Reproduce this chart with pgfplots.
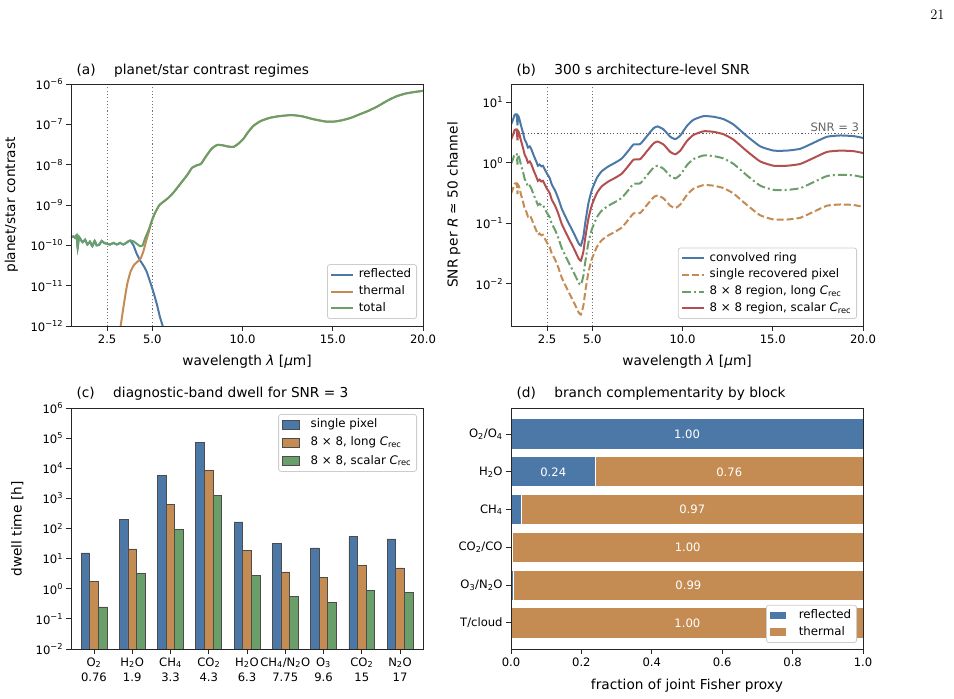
\documentclass[border=0pt]{standalone}
\usepackage{pgfplots}
\usepackage{pgfplotstable}
\pgfplotsset{compat=1.18}
\usepackage{fontspec}
\setsansfont{DejaVu Sans}
\renewcommand{\familydefault}{\sfdefault}
\definecolor{cblue}{RGB}{76,120,168}
\definecolor{corange}{RGB}{196,139,83}
\definecolor{cgreen}{RGB}{106,159,106}
\definecolor{cred}{RGB}{178,80,80}
\newcommand\tickfont{\fontsize{11.6}{13}\selectfont}
\newcommand\labfont{\fontsize{13.7}{16}\selectfont}
\newcommand\legfont{\fontsize{11.8}{14}\selectfont}
\newcommand\ee[1]{10\raisebox{0.42em}{\fontsize{8.2}{9}\selectfont #1}}
\newcommand\sub[1]{\textsubscript{#1}}
\newcommand\Crec{\textit{C}\sub{rec}}

\pgfplotsset{
 panel/.style={scale only axis, anchor=south west, axis on top,
   axis line style={draw=black!85, line width=0.9pt},
   tick style={black!85, line width=0.9pt},
   tick align=outside, major tick length=4.9pt, tick pos=left,
   tick label style={font=\tickfont},
   xminorticks=false, yminorticks=false,
   /pgf/number format/assume math mode=true,
   legend cell align=left,
   legend style={font=\legfont, draw=black!20, line width=0.8pt, rounded corners=2.5pt,
     fill=white, inner xsep=3pt, inner ysep=2pt, row sep=0pt, column sep=2pt,
     nodes={inner sep=2.4pt, text depth=2.9pt}},
 },
 lineleg/.style={legend image code/.code={\draw[##1,sharp corners] (0pt,0pt) -- (22pt,0pt);}},
 patchleg/.style={legend image code/.code={\draw[##1,sharp corners] (0pt,-4.3pt) rectangle (17pt,4.3pt); \path (24pt,0pt);}},
}

\pgfplotstableread{
lam blue orange green red
0.50 4.27 0.309 0.955 2.40
0.61 5.13 0.372 1.148 2.88
0.70 6.17 0.447 1.38 3.47
0.76 6.31 0.457 1.41 3.55
0.82 6.17 0.447 1.38 3.47
0.86 4.17 0.302 0.933 2.34
0.88 6.03 0.437 1.35 3.39
0.95 5.50 0.398 1.23 3.09
1.04 4.27 0.309 0.955 2.40
1.17 3.09 0.224 0.692 1.74
1.26 2.40 0.174 0.537 1.35
1.35 2.14 0.155 0.479 1.20
1.44 1.78 0.129 0.398 1.00
1.54 1.86 0.135 0.417 1.05
1.63 1.66 0.120 0.372 0.933
1.77 1.29 0.0933 0.288 0.724
1.90 1.05 0.0759 0.234 0.589
1.99 0.891 0.0646 0.200 0.501
2.08 0.933 0.0676 0.209 0.525
2.18 0.871 0.0631 0.195 0.490
2.27 0.891 0.0646 0.200 0.501
2.37 0.776 0.0562 0.174 0.437
2.51 0.646 0.0468 0.145 0.363
2.64 0.562 0.0407 0.126 0.316
2.76 0.437 0.0316 0.0977 0.245
2.94 0.347 0.0251 0.0776 0.195
3.13 0.251 0.0182 0.0562 0.141
3.31 0.174 0.0126 0.0389 0.0977
3.50 0.132 0.00955 0.0295 0.0741
3.68 0.102 0.00741 0.0229 0.0575
3.87 0.0794 0.00575 0.0178 0.0447
4.05 0.0617 0.00447 0.0138 0.0347
4.24 0.0468 0.00339 0.0105 0.0263
4.37 0.0427 0.00309 0.00955 0.0240
4.51 0.0603 0.00437 0.0135 0.0339
4.61 0.100 0.00724 0.0224 0.0562
4.79 0.214 0.0155 0.0479 0.120
4.98 0.355 0.0257 0.0794 0.200
5.26 0.562 0.0407 0.126 0.316
5.53 0.724 0.0525 0.162 0.407
5.90 0.871 0.0631 0.195 0.490
6.27 1.00 0.0724 0.224 0.562
6.64 1.175 0.0851 0.263 0.661
7.01 1.585 0.115 0.355 0.891
7.29 2.00 0.145 0.447 1.122
7.66 2.04 0.148 0.457 1.148
8.03 2.75 0.200 0.617 1.55
8.40 3.72 0.269 0.832 2.09
8.62 3.98 0.288 0.891 2.24
8.95 3.55 0.257 0.794 2.00
9.32 2.69 0.195 0.603 1.51
9.60 2.45 0.178 0.550 1.38
9.88 2.82 0.204 0.631 1.585
10.25 4.07 0.295 0.912 2.29
10.61 5.13 0.372 1.148 2.88
11.17 5.89 0.427 1.318 3.31
11.72 5.75 0.417 1.288 3.24
12.28 5.25 0.380 1.175 2.95
12.83 4.27 0.309 0.955 2.40
13.57 2.75 0.200 0.617 1.55
14.31 1.86 0.135 0.417 1.047
15.05 1.585 0.115 0.355 0.891
15.79 1.585 0.115 0.355 0.891
16.53 1.70 0.123 0.380 0.955
17.27 2.14 0.155 0.479 1.20
18.01 2.69 0.195 0.603 1.51
18.75 2.82 0.204 0.631 1.585
19.49 2.75 0.200 0.617 1.55
20.00 2.57 0.186 0.575 1.445
}\snrtab

\begin{document}
\begin{tikzpicture}
\path[use as bounding box] (0pt,0pt) rectangle (954pt,699pt);

% page number
\node[anchor=base east, font=\rmfamily\fontsize{14.4}{16}\selectfont] at (948pt,679pt) {21};

% ---------------- (a)
\begin{axis}[panel, at={(71pt,373pt)}, width=352pt, height=242pt,
  xmin=0.5, xmax=20, ymode=log, ymin=1e-12, ymax=1e-6,
  xtick={2.5,5,10,15,20}, xticklabels={2.5,5.0,10.0,15.0,20.0},
  ytick={1e-12,1e-11,1e-10,1e-9,1e-8,1e-7,1e-6},
  yticklabels={\ee{−12},\ee{−11},\ee{−10},\ee{−9},\ee{−8},\ee{−7},\ee{−6}},
  legend style={at={(0.983,0.029)}, anchor=south east}]
\addplot[black!55, dash pattern=on 1.1pt off 2.2pt, line width=0.9pt, forget plot] coordinates {(2.5,1e-12) (2.5,1e-6)};
\addplot[black!55, dash pattern=on 1.1pt off 2.2pt, line width=0.9pt, forget plot] coordinates {(5,1e-12) (5,1e-6)};
\addplot[cblue, line width=2pt, smooth, tension=0.3, lineleg] coordinates {
(0.50,1.585e-10) (0.54,1.622e-10) (0.63,1.660e-10) (0.72,1.549e-10) (0.81,1.778e-10) (0.87,8.71e-11) (0.94,1.622e-10) (1.04,1.380e-10) (1.15,1.202e-10) (1.28,1.380e-10) (1.41,1.047e-10) (1.55,1.230e-10) (1.68,9.55e-11) (1.81,1.288e-10) (1.92,1.0e-10) (2.07,1.047e-10) (2.20,1.288e-10) (2.33,1.148e-10) (2.48,1.096e-10) (2.66,1.047e-10) (2.85,1.148e-10) (3.04,1.047e-10) (3.22,1.148e-10) (3.40,1.047e-10) (3.59,1.175e-10) (3.77,1.318e-10) (3.96,1.0e-10) (4.14,6.166e-11) (4.32,4.266e-11) (4.51,3.162e-11) (4.69,2.239e-11) (4.88,1.259e-11) (5.06,7.079e-12) (5.25,3.548e-12) (5.43,1.660e-12) (5.58,1.0e-12) (5.75,5.0e-13)};
\addlegendentry{reflected}
\addplot[corange, line width=2pt, smooth, tension=0.3, lineleg] coordinates {
(3.05,2.51e-13) (3.25,1.0e-12) (3.45,3.98e-12) (3.62,1.122e-11) (3.80,2.239e-11) (4.00,3.311e-11) (4.20,3.981e-11) (4.35,4.677e-11) (4.51,7.079e-11) (4.69,1.413e-10) (4.88,2.8e-10) (4.97,3.98e-10) (5.15,6.31e-10) (5.40,1.0e-9) (5.62,1.202e-9) (5.90,1.514e-9) (6.20,2.089e-9) (6.60,3.548e-9) (6.95,5.623e-9) (7.20,8.318e-9) (7.50,9.772e-9) (7.70,1.047e-8) (8.00,1.660e-8) (8.30,2.512e-8) (8.60,3.090e-8) (8.90,3.020e-8) (9.20,2.818e-8) (9.50,2.754e-8) (9.80,3.388e-8) (10.05,4.365e-8) (10.30,6.310e-8) (10.60,9.120e-8) (11.00,1.202e-7) (11.50,1.445e-7) (12.00,1.585e-7) (12.70,1.698e-7) (13.30,1.585e-7) (13.90,1.349e-7) (14.60,1.175e-7) (15.10,1.175e-7) (15.50,1.259e-7) (16.00,1.445e-7) (16.50,1.778e-7) (17.00,2.188e-7) (17.50,2.818e-7) (18.00,3.802e-7) (18.50,4.898e-7) (19.00,5.754e-7) (19.50,6.310e-7) (20.00,6.761e-7)};
\addlegendentry{thermal}
\addplot[cgreen, line width=2pt, smooth, tension=0.3, lineleg] coordinates {
(0.50,1.585e-10) (0.54,1.622e-10) (0.63,1.660e-10) (0.72,1.549e-10) (0.81,1.778e-10) (0.87,8.71e-11) (0.94,1.622e-10) (1.04,1.380e-10) (1.15,1.202e-10) (1.28,1.380e-10) (1.41,1.047e-10) (1.55,1.230e-10) (1.68,9.55e-11) (1.81,1.288e-10) (1.92,1.0e-10) (2.07,1.047e-10) (2.20,1.288e-10) (2.33,1.148e-10) (2.48,1.096e-10) (2.66,1.047e-10) (2.85,1.148e-10) (3.04,1.047e-10) (3.22,1.148e-10) (3.40,1.047e-10) (3.59,1.175e-10) (3.77,1.318e-10) (3.96,1.259e-10) (4.14,1.096e-10) (4.32,9.55e-11) (4.47,1.0e-10) (4.60,1.479e-10) (4.79,2.344e-10) (4.97,3.98e-10) (5.15,6.31e-10) (5.40,1.0e-9) (5.62,1.202e-9) (5.90,1.514e-9) (6.20,2.089e-9) (6.60,3.548e-9) (6.95,5.623e-9) (7.20,8.318e-9) (7.50,9.772e-9) (7.70,1.047e-8) (8.00,1.660e-8) (8.30,2.512e-8) (8.60,3.090e-8) (8.90,3.020e-8) (9.20,2.818e-8) (9.50,2.754e-8) (9.80,3.388e-8) (10.05,4.365e-8) (10.30,6.310e-8) (10.60,9.120e-8) (11.00,1.202e-7) (11.50,1.445e-7) (12.00,1.585e-7) (12.70,1.698e-7) (13.30,1.585e-7) (13.90,1.349e-7) (14.60,1.175e-7) (15.10,1.175e-7) (15.50,1.259e-7) (16.00,1.445e-7) (16.50,1.778e-7) (17.00,2.188e-7) (17.50,2.818e-7) (18.00,3.802e-7) (18.50,4.898e-7) (19.00,5.754e-7) (19.50,6.310e-7) (20.00,6.761e-7)};
\addlegendentry{total}
\end{axis}

% ---------------- (b)
\begin{axis}[panel, at={(511pt,373pt)}, width=352pt, height=242pt,
  xmin=0.5, xmax=20, ymode=log, ymin=0.002, ymax=20,
  xtick={2.5,5,10,15,20}, xticklabels={2.5,5.0,10.0,15.0,20.0},
  ytick={0.01,0.1,1,10},
  yticklabels={\ee{−2},\ee{−1},\ee{0},\ee{1}},
  legend style={at={(0.983,0.029)}, anchor=south east}]
\addplot[black!55, dash pattern=on 1.1pt off 2.2pt, line width=0.9pt, forget plot] coordinates {(2.5,0.002) (2.5,20)};
\addplot[black!55, dash pattern=on 1.1pt off 2.2pt, line width=0.9pt, forget plot] coordinates {(5,0.002) (5,20)};
\addplot[black!65, dash pattern=on 1.1pt off 2.2pt, line width=0.9pt, forget plot] coordinates {(0.5,3) (20,3)};
\node[anchor=south east, font=\tickfont, text=black!60, inner sep=1pt] at (axis cs:19.85,3.15) {SNR = 3};
\addplot[cblue, line width=2pt, smooth, tension=0.3, lineleg] table[x=lam,y=blue] {\snrtab};
\addlegendentry{convolved ring}
\addplot[corange, line width=2pt, smooth, tension=0.3, dash pattern=on 7pt off 3pt, lineleg] table[x=lam,y=orange] {\snrtab};
\addlegendentry{single recovered pixel}
\addplot[cgreen, line width=2pt, smooth, tension=0.3, dash pattern=on 9pt off 3pt on 2pt off 3pt, lineleg] table[x=lam,y=green] {\snrtab};
\addlegendentry{8 × 8 region, long \Crec}
\addplot[cred, line width=2pt, smooth, tension=0.3, lineleg] table[x=lam,y=red] {\snrtab};
\addlegendentry{8 × 8 region, scalar \Crec}
\end{axis}

% ---------------- (c)
\begin{axis}[panel, at={(71pt,50pt)}, width=352pt, height=241pt,
  ymode=log, log origin=infty, ymin=1e-2, ymax=1e6, xmin=-0.6, xmax=8.6,
  ybar, bar width=0.225,
  xtick={0,...,8},
  xticklabels={{O\sub{2}\\0.76},{H\sub{2}O\\1.9},{CH\sub{4}\\3.3},{CO\sub{2}\\4.3},{H\sub{2}O\\6.3},{CH\sub{4}/N\sub{2}O\\7.75},{O\sub{3}\\9.6},{CO\sub{2}\\15},{N\sub{2}O\\17}},
  xticklabel style={align=center, font=\fontsize{11.6}{15.5}\selectfont},
  ytick={1e-2,1e-1,1,1e1,1e2,1e3,1e4,1e5,1e6},
  yticklabels={\ee{−2},\ee{−1},\ee{0},\ee{1},\ee{2},\ee{3},\ee{4},\ee{5},\ee{6}},
  legend style={at={(0.983,0.975)}, anchor=north east, row sep=1.5pt}]
\addplot[fill=cblue, draw=black!70, line width=0.7pt, bar shift=-0.225, patchleg] coordinates {(0,15.5) (1,195) (2,5800) (3,74000) (4,165) (5,33) (6,22.6) (7,54) (8,45)};
\addlegendentry{single pixel}
\addplot[fill=corange, draw=black!70, line width=0.7pt, bar shift=0, patchleg] coordinates {(0,1.7) (1,21) (2,640) (3,8300) (4,18.5) (5,3.6) (6,2.45) (7,5.9) (8,4.9)};
\addlegendentry{8 × 8, long \Crec}
\addplot[fill=cgreen, draw=black!70, line width=0.7pt, bar shift=0.225, patchleg] coordinates {(0,0.25) (1,3.3) (2,94) (3,1230) (4,2.7) (5,0.54) (6,0.36) (7,0.89) (8,0.74)};
\addlegendentry{8 × 8, scalar \Crec}
\end{axis}

% ---------------- (d)
\begin{axis}[panel, at={(511pt,50pt)}, width=352pt, height=241pt,
  xbar stacked, bar width=0.8, y dir=reverse,
  xmin=0, xmax=1, ymin=-0.69, ymax=5.69,
  ytick={0,...,5},
  yticklabels={O\sub{2}/O\sub{4},H\sub{2}O,CH\sub{4},CO\sub{2}/CO,O\sub{3}/N\sub{2}O,T/cloud},
  xtick={0,0.2,0.4,0.6,0.8,1.0}, xticklabels={0.0,0.2,0.4,0.6,0.8,1.0},
  legend style={at={(0.983,0.025)}, anchor=south east},
  after end axis/.code={
    \node[text=white, font=\tickfont] at (axis cs:0.5,0) {1.00};
    \node[text=white, font=\tickfont] at (axis cs:0.12,1) {0.24};
    \node[text=white, font=\tickfont] at (axis cs:0.62,1) {0.76};
    \node[text=white, font=\tickfont] at (axis cs:0.515,2) {0.97};
    \node[text=white, font=\tickfont] at (axis cs:0.502,3) {1.00};
    \node[text=white, font=\tickfont] at (axis cs:0.504,4) {0.99};
    \node[text=white, font=\tickfont] at (axis cs:0.501,5) {1.00};
  }]
\addplot[fill=cblue, draw=white, line width=1pt, patchleg] coordinates {(1.0,0) (0.24,1) (0.03,2) (0.004,3) (0.008,4) (0.002,5)};
\addlegendentry{reflected}
\addplot[fill=corange, draw=white, line width=1pt, patchleg] coordinates {(0,0) (0.76,1) (0.97,2) (0.996,3) (0.992,4) (0.998,5)};
\addlegendentry{thermal}
\end{axis}

% titles and labels
\node[anchor=base west, font=\labfont] at (73pt,624pt) {(a)\hspace{18.5pt}planet/star contrast regimes};
\node[anchor=base west, font=\labfont] at (513pt,624pt) {(b)\hspace{18.5pt}300 s architecture-level SNR};
\node[anchor=base west, font=\labfont] at (73pt,301pt) {(c)\hspace{18.5pt}diagnostic-band dwell for SNR = 3};
\node[anchor=base west, font=\labfont] at (513pt,301pt) {(d)\hspace{18.5pt}branch complementarity by block};
\node[anchor=base, font=\labfont] at (247pt,333pt) {wavelength \textit{λ} [\textit{μ}m]};
\node[anchor=base, font=\labfont] at (687pt,333pt) {wavelength \textit{λ} [\textit{μ}m]};
\node[anchor=base, font=\labfont] at (687pt,9.7pt) {fraction of joint Fisher proxy};
\node[anchor=base, rotate=90, font=\labfont] at (15pt,494pt) {planet/star contrast};
\node[anchor=base, rotate=90, font=\labfont] at (457.5pt,494pt) {SNR per \textit{R} ≃ 50 channel};
\node[anchor=base, rotate=90, font=\labfont] at (21.5pt,170pt) {dwell time [h]};
\end{tikzpicture}
\end{document}
